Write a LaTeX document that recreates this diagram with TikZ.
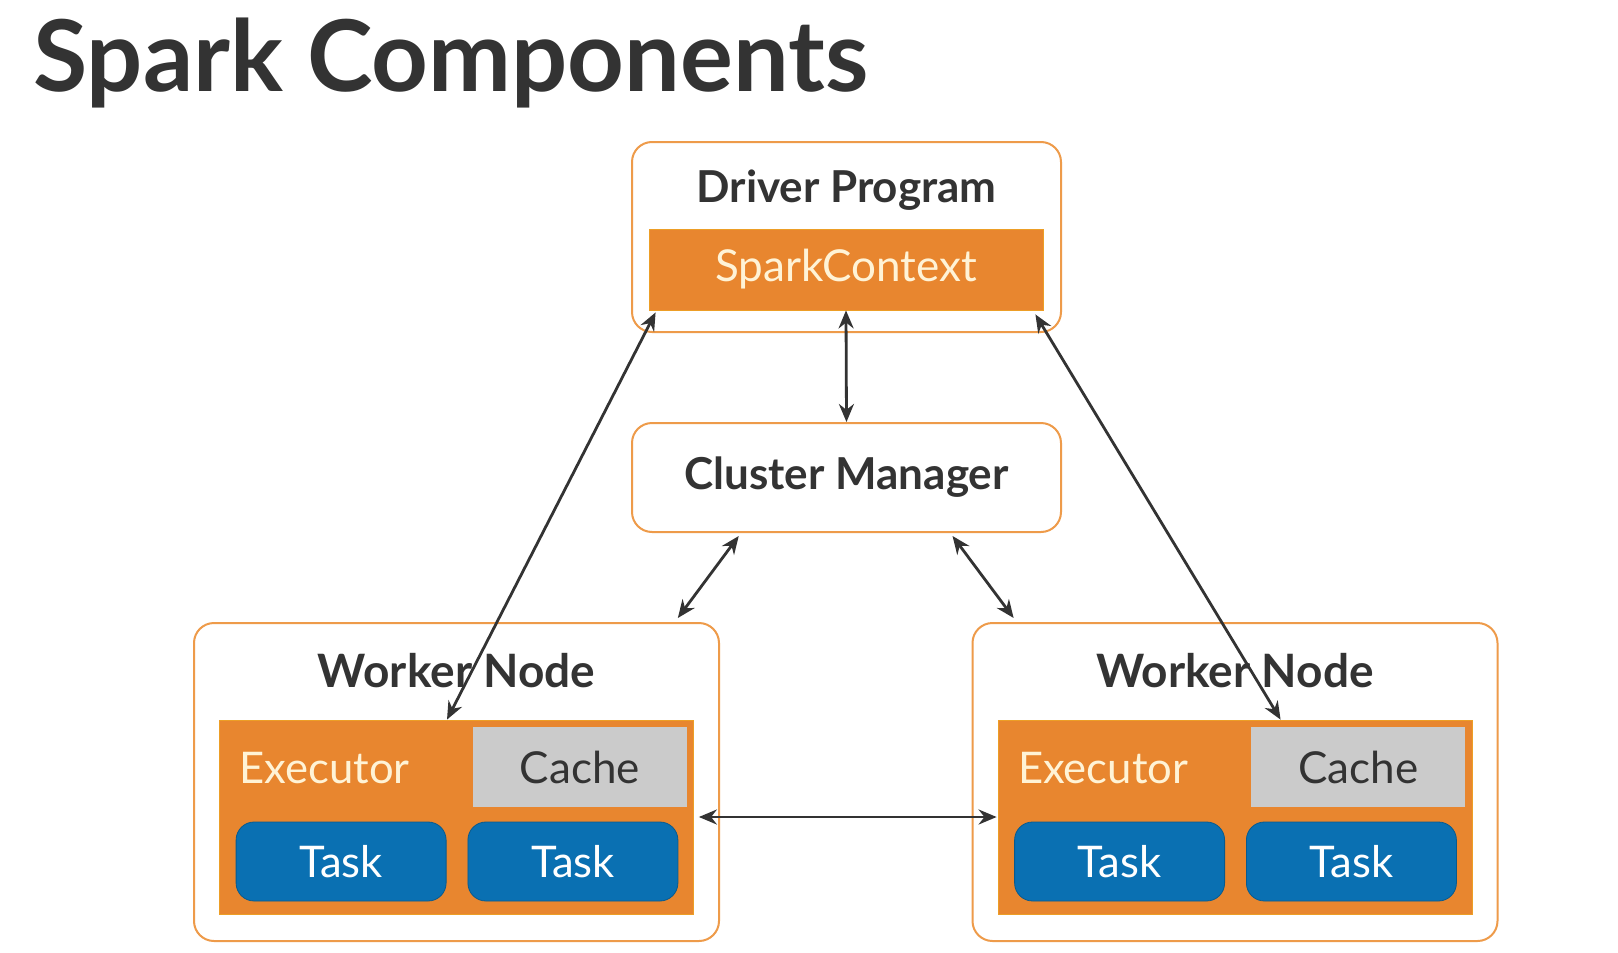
\documentclass[tikz,border=0pt]{standalone}
\usepackage{fontspec}
\setmainfont{Lato}
\usetikzlibrary{calc,arrows.meta}
\definecolor{sparkorange}{HTML}{E8862F}
\definecolor{edgeorange}{HTML}{EE9B4A}
\definecolor{taskblue}{HTML}{0A70B2}
\definecolor{cachegray}{HTML}{CBCBCB}
\definecolor{inkdark}{HTML}{333333}
\definecolor{creamtext}{HTML}{FFF3D6}
\tikzset{
    outer box/.style={draw=edgeorange, line width=1pt, fill=white,
        rounded corners=10pt, inner sep=0pt},
    box title/.style={text=inkdark, font=\bfseries\fontsize{22}{26}\selectfont, inner sep=0pt},
    orange bar/.style={fill=sparkorange, draw=sparkorange!80!yellow, line width=.4pt, inner sep=0pt},
    cache box/.style={fill=cachegray, text=inkdark, inner sep=0pt,
        minimum width=107pt, minimum height=40pt,
        font=\fontsize{22}{26}\selectfont},
    task box/.style={fill=taskblue, draw=taskblue!80!black, line width=.4pt,
        rounded corners=9pt, text=white, inner sep=0pt,
        minimum width=105pt, minimum height=39.5pt,
        font=\fontsize{21.8}{26}\selectfont},
    link/.style={{Stealth[length=9pt,width=7.5pt]}-{Stealth[length=9pt,width=7.5pt]},
        draw=inkdark, line width=1.4pt}
}

\begin{document}
\begin{tikzpicture}[x=0.5pt, y=-0.5pt]
    \useasboundingbox[fill=white] (0,0) rectangle (1618,953);
    % Title
    \node[anchor=base west, inner sep=0pt, text=inkdark,
        font=\bfseries\fontsize{49.5}{56}\selectfont] (title) at (33,91) {Spark Components};
    % Driver and cluster manager
    \node[outer box, minimum width=214.5pt, minimum height=95pt] (drv) at (846.5,237) {};
    \node[box title] (drvlbl) at (846.5,190) {Driver Program};
    \node[orange bar, minimum width=197pt, minimum height=40.5pt, text=creamtext,
        font=\fontsize{22}{26}\selectfont] (ctx) at (846,269.5) {SparkContext};
    \node[outer box, minimum width=214.5pt, minimum height=54.5pt, box title] (clu) at (846.5,477.5) {Cluster Manager};
    % Worker nodes
    \foreach \side/\cx in {L/456.5, R/1235}{
        \node[outer box, minimum width=262.5pt, minimum height=159pt] (wrk\side) at (\cx,782) {};
        \node[box title, font=\bfseries\fontsize{23}{27}\selectfont] at (\cx,671) {Worker Node};
        \node[orange bar, minimum width=237pt, minimum height=97pt] (exe\side) at (\cx,817) {};
        \node[anchor=west, inner sep=0pt, text=creamtext, font=\fontsize{21.8}{26}\selectfont]
            at ($(exe\side.west)+(20,-49)$) {Executor};
        \node[cache box] (cache\side) at ($(exe\side.east)+(-114,-50)$) {Cache};
        \node[task box] (taskA\side) at ($(exe\side.west)+(122,44.5)$) {Task};
        \node[task box] (taskB\side) at ($(exe\side.east)+(-121,44.5)$) {Task};
    }
    % Connectors
    \draw[link] (ctx.south) -- (clu.north);
    \draw[link] ($(ctx.south west)+(7,2)$) -- ($(exeL.north west)!0.48!(exeL.north east)$);
    \draw[link] ($(ctx.south east)+(-8,4)$) -- ($(exeR.north west)!0.596!(exeR.north east)$);
    \draw[link] ($(clu.south west)!0.25!(clu.south east)+(0,3)$) -- ($(wrkL.north west)!0.92!(wrkL.north east)+(0,-4)$);
    \draw[link] ($(clu.south west)!0.746!(clu.south east)+(0,3)$) -- ($(wrkR.north west)!0.08!(wrkR.north east)+(0,-4)$);
    \draw[link] ($(exeL.east)+(5,0)$) -- ($(exeR.west)+(-1,0)$);
\end{tikzpicture}
\end{document}
